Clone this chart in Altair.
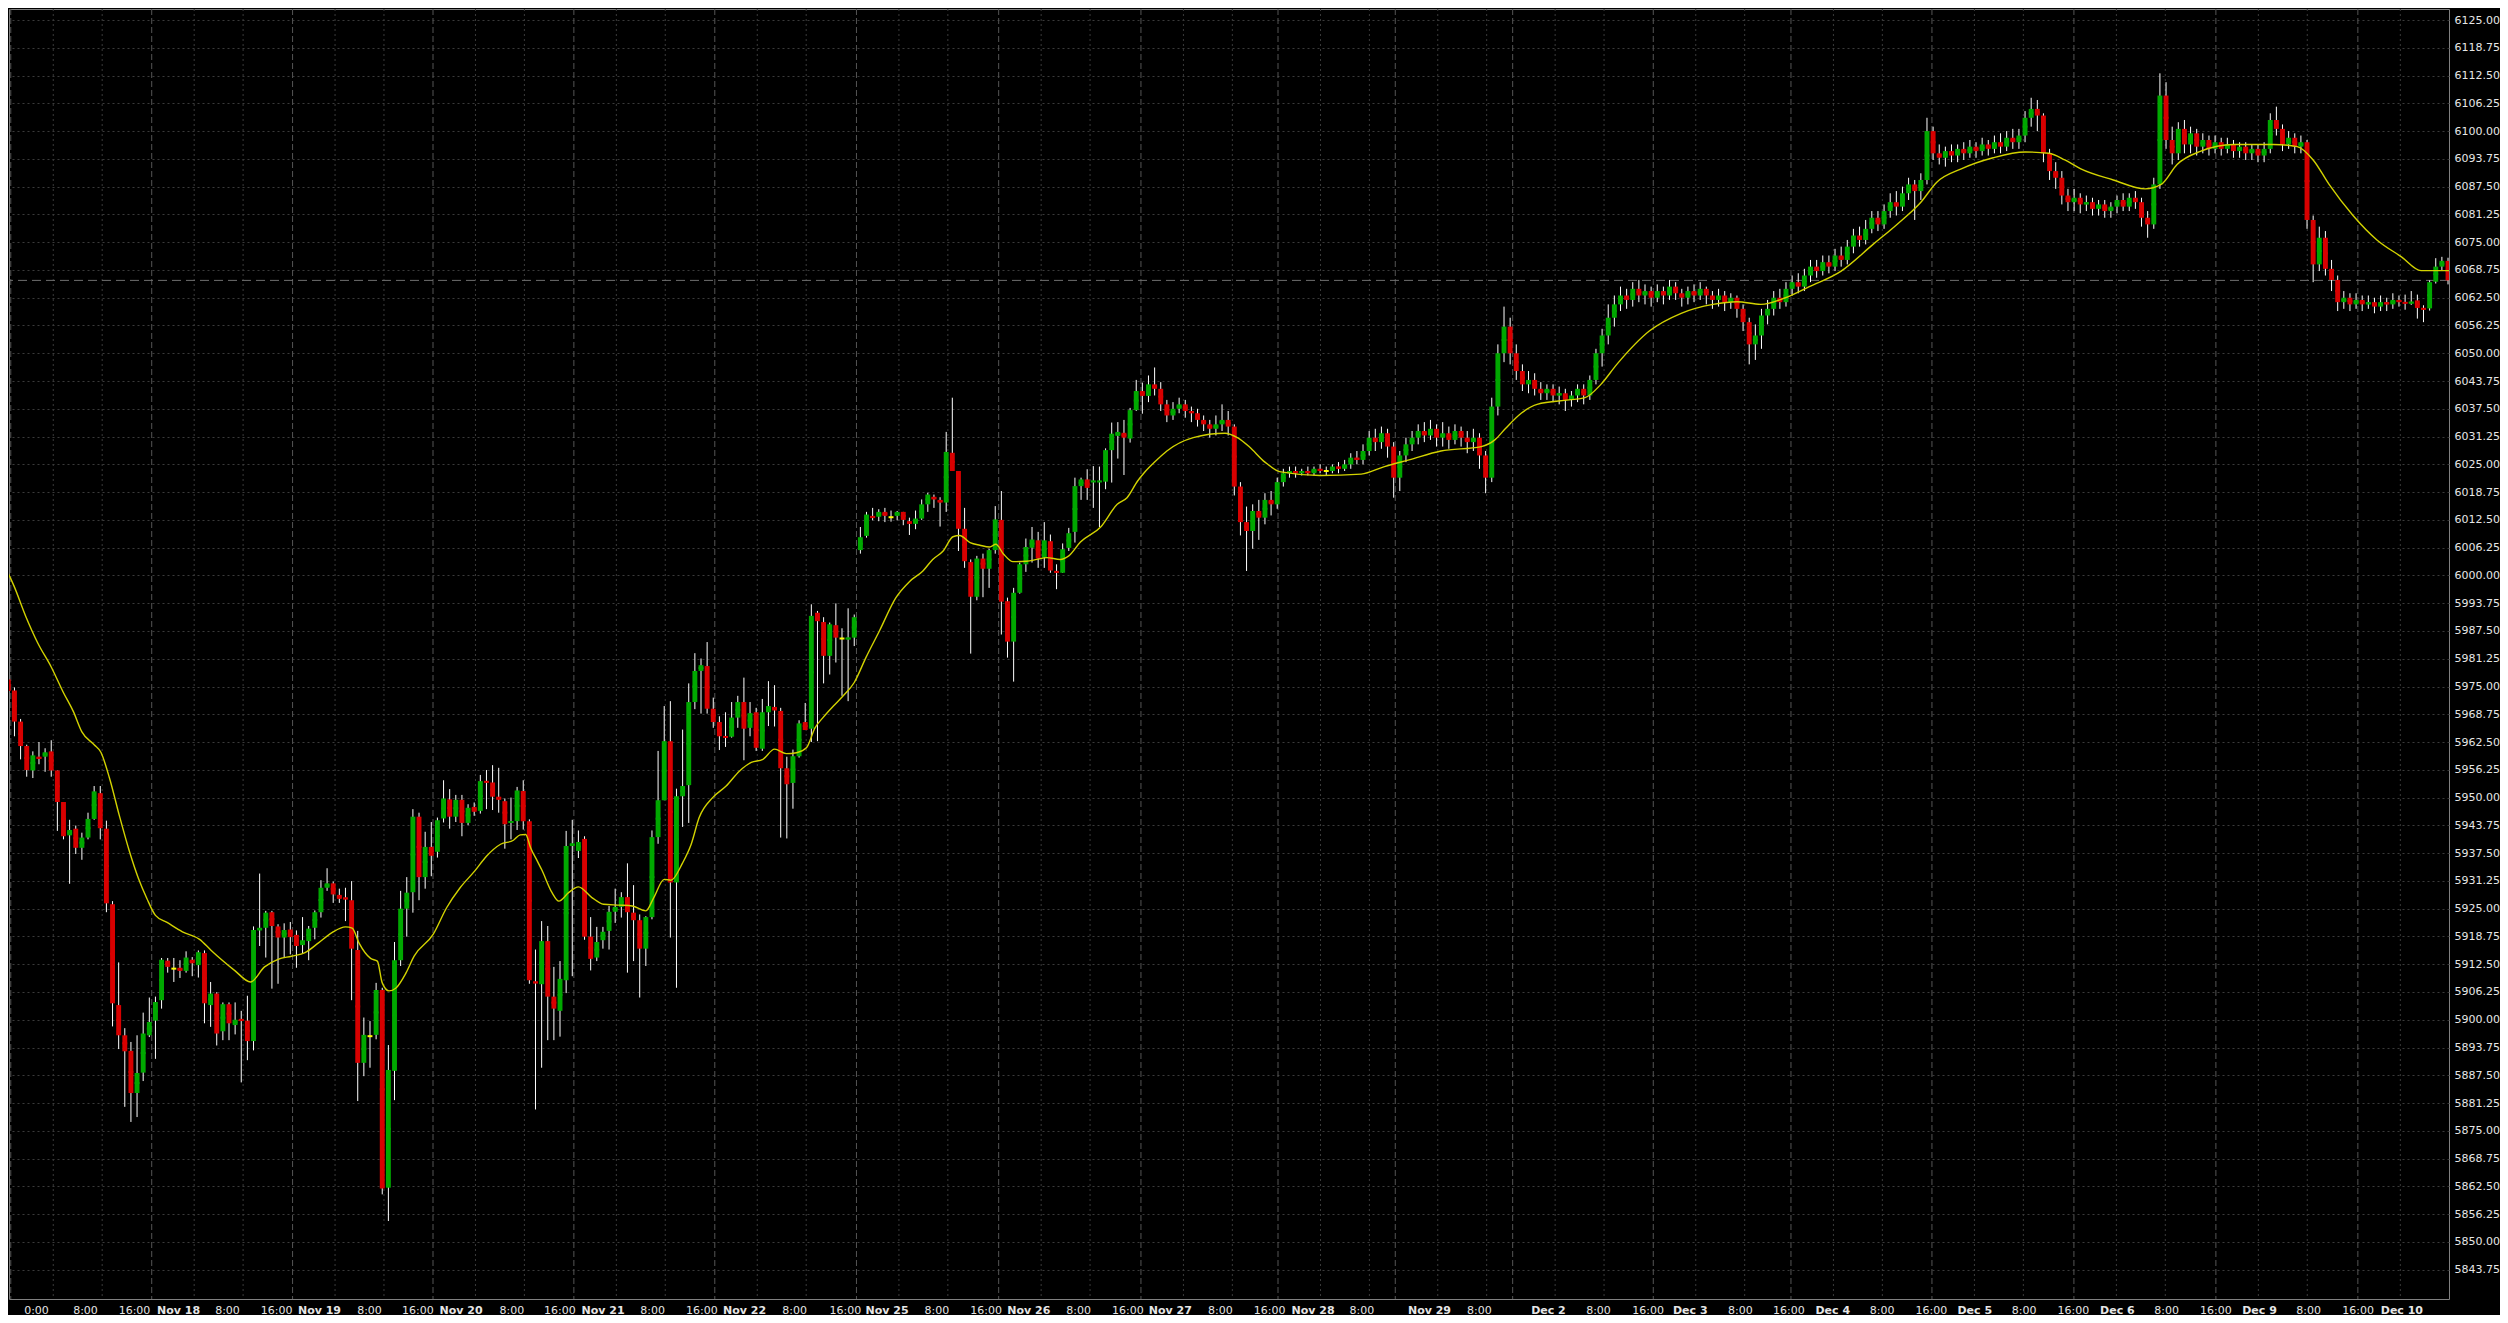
import altair as alt
import pandas as pd

# ---- hourly candles, bar index = position in list ----
opens = [5994.8,5976.6,5974.1,5967.1,5961.6,5956.1,5959.2,5959.2,5960.4,5956.1,
 5949.0,5941.5,5943.0,5938.7,5941.0,5945.2,5951.0,5943.0,5926.0,5903.3,
 5896.5,5893.0,5883.5,5888.1,5896.5,5899.8,5904.4,5913.3,5911.5,5911.7,
 5911.0,5913.5,5912.3,5915.0,5903.3,5905.9,5897.4,5903.5,5898.8,5900.2,
 5899.8,5895.2,5920.1,5920.7,5924.2,5921.0,5918.5,5920.3,5919.1,5916.8,
 5917.7,5920.7,5924.2,5929.7,5930.7,5928.1,5927.5,5926.9,5915.7,5890.3,
 5896.3,5896.6,5906.7,5862.2,5888.5,5913.4,5925.0,5928.7,5945.7,5932.1,
 5938.9,5937.8,5945.3,5949.6,5945.7,5949.5,5944.3,5947.9,5947.0,5953.7,
 5953.4,5950.2,5949.2,5944.3,5944.7,5951.5,5944.7,5908.6,5908.0,5917.7,
 5905.2,5902.0,5908.9,5939.1,5938.0,5940.7,5918.7,5914.0,5917.9,5920.0,
 5924.3,5925.4,5927.6,5924.1,5922.4,5916.0,5923.1,5941.1,5949.4,5962.7,
 5930.9,5950.3,5952.8,5971.5,5978.5,5979.6,5970.0,5967.0,5963.8,5963.7,
 5968.0,5971.5,5965.7,5969.2,5961.0,5969.2,5970.4,5969.5,5956.6,5953.3,
 5959.3,5967.0,5965.5,5991.6,5989.5,5981.9,5988.8,5985.8,5985.6,5986.0,
 6005.7,6008.9,6013.4,6013.2,6014.3,6013.1,6013.4,6014.3,6012.2,6011.6,
 6012.8,6016.0,6017.7,6017.0,6016.4,6027.6,6023.5,6010.5,6003.0,5995.2,
 6003.8,6001.5,6005.7,6012.5,5994.2,5985.1,5996.1,6002.5,6006.2,6007.9,
 6004.0,6007.7,6001.0,6000.6,6006.2,6009.8,6020.1,6021.6,6021.0,6021.0,
 6021.1,6028.2,6031.4,6032.1,6030.8,6037.2,6041.5,
 6040.4,6043.0,6042.0,6038.5,6036.0,6037.5,6038.5,6037.0,6036.5,6035.0,
 6034.0,6033.0,6034.0,6035.0,6033.5,6020.0,6012.0,6010.0,6014.5,6013.0,
 6017.0,6016.0,6021.0,6023.0,6023.5,6023.0,6023.5,6023.0,6024.0,6023.5,
 6023.5,6024.5,6024.0,6025.0,6026.5,6026.0,6028.0,6031.0,6030.0,6032.0,
 6029.0,6022.0,6027.0,6029.5,6031.0,6032.5,6031.5,6033.0,6031.0,6032.0,
 6030.5,6032.5,6031.0,6030.0,6031.0,6027.0,6022.0,6038.0,6050.0,6056.0,
 6050.0,6046.0,6043.0,6044.0,6042.0,6041.0,6042.0,6040.5,6041.0,6039.5,
 6040.5,6042.0,6040.5,6044.0,6050.0,6054.0,6058.0,6061.0,6063.0,6062.0,
 6064.5,6063.0,6064.0,6062.5,6064.0,6063.0,6065.0,6063.5,6062.5,6064.0,
 6063.0,6064.5,6063.0,6062.0,6063.0,6061.5,6062.5,6060.0,6057.0,6052.0,
 6054.0,6058.5,6060.0,6062.5,6061.5,6064.5,6066.0,6065.0,6067.5,6069.5,
 6068.5,6070.5,6069.5,6072.0,6071.0,6074.0,6076.5,6075.5,6078.0,6080.5,
 6079.0,6082.0,6084.0,6083.0,6086.0,6088.0,6086.5,6089.0,6100.0,6095.0,
 6094.0,6095.5,6094.5,6096.0,6095.0,6096.5,6095.5,6097.0,6096.0,6097.5,
 6096.5,6098.5,6097.5,6099.0,6103.0,6105.0,6103.5,6095.0,6091.0,6089.5,
 6085.5,6084.0,6085.0,6083.5,6084.0,6082.5,6083.5,6082.0,6083.0,6084.5,
 6083.0,6085.0,6084.0,6080.5,6079.0,6088.0,6108.0,6098.0,6095.0,6100.5,
 6097.0,6099.5,6096.5,6098.0,6096.0,6097.5,6096.0,6097.0,6095.5,6096.5,
 6095.0,6096.0,6094.5,6096.0,6102.5,6100.5,6097.0,6098.5,6096.5,6097.5,
 6080.0,6070.0,6076.0,6069.0,6066.5,6061.5,6062.5,6061.0,6062.0,6061.0,
 6061.5,6060.5,6061.5,6061.0,6062.0,6061.5,6061.2,6061.9,6060.2,6060.1,
 6066.1,6069.5,6070.8]
highs = [5995.2,5977.6,5974.8,5967.7,5961.9,5960.4,5962.5,5961.1,5962.9,5956.1,
 5949.0,5945.0,5943.7,5942.1,5946.6,5952.6,5952.6,5944.8,5926.7,5912.9,
 5898.1,5895.0,5896.5,5901.6,5905.0,5905.2,5913.9,5913.9,5913.9,5913.4,
 5915.4,5914.1,5915.6,5915.6,5908.5,5906.2,5903.9,5903.9,5903.9,5902.0,
 5905.4,5921.0,5932.9,5924.5,5924.5,5921.5,5921.7,5922.0,5920.1,5923.1,
 5921.1,5924.6,5931.4,5934.1,5931.1,5929.5,5929.7,5931.2,5920.0,5900.5,
 5899.7,5908.3,5907.2,5894.3,5917.5,5929.0,5932.1,5947.4,5946.6,5942.3,
 5944.5,5945.5,5953.9,5951.9,5950.6,5950.6,5948.5,5948.9,5955.1,5956.2,
 5957.3,5956.7,5949.8,5950.0,5952.4,5953.9,5945.1,5915.8,5922.2,5921.1,
 5911.9,5913.2,5942.5,5945.0,5942.6,5941.3,5923.1,5920.9,5920.9,5925.6,
 5929.5,5928.7,5935.2,5930.3,5923.7,5923.3,5942.6,5960.5,5970.6,5971.7,
 5952.0,5965.3,5975.7,5982.5,5981.3,5985.0,5972.5,5968.3,5969.2,5971.5,
 5972.9,5977.0,5971.5,5970.2,5972.2,5976.2,5975.3,5970.2,5959.2,5960.8,
 5967.4,5971.3,5993.5,5992.0,5990.6,5989.4,5993.7,5988.1,5992.6,5991.2,
 6010.9,6014.3,6015.2,6014.9,6015.2,6014.6,6014.5,6014.3,6013.0,6014.6,
 6017.1,6018.6,6018.2,6017.6,6032.3,6040.0,6023.5,6015.2,6003.6,6004.4,
 6004.9,6006.0,6015.6,6019.0,5995.0,5997.2,6002.9,6008.3,6010.9,6009.8,
 6012.0,6009.2,6002.5,6007.2,6010.7,6022.0,6022.0,6023.9,6024.6,6024.5,
 6028.6,6034.4,6034.5,6035.0,6037.7,6044.0,6043.4,
 6045.0,6046.8,6043.5,6039.5,6039.0,6040.0,6039.5,6038.0,6037.5,6036.0,
 6035.0,6036.0,6038.5,6037.0,6034.0,6021.0,6015.5,6016.0,6017.0,6018.5,
 6019.0,6022.0,6024.0,6024.5,6024.5,6024.0,6024.5,6024.5,6025.0,6024.5,
 6025.0,6025.5,6026.0,6027.5,6028.0,6029.5,6032.5,6033.0,6033.5,6033.0,
 6030.0,6028.0,6031.0,6032.5,6034.0,6034.5,6035.0,6034.0,6034.5,6033.5,
 6034.0,6033.5,6032.5,6033.0,6032.0,6028.0,6040.0,6052.0,6060.5,6058.0,
 6052.0,6047.5,6046.0,6045.5,6043.5,6043.0,6043.0,6042.5,6042.0,6041.5,
 6043.0,6043.0,6045.0,6051.0,6055.5,6061.0,6063.0,6065.0,6064.5,6066.0,
 6066.5,6065.5,6065.0,6065.5,6065.0,6066.5,6066.0,6064.5,6065.0,6065.5,
 6066.0,6065.0,6064.0,6064.5,6064.0,6063.5,6063.0,6061.0,6058.0,6056.5,
 6060.0,6062.0,6064.0,6064.5,6066.0,6067.5,6068.0,6069.0,6071.0,6071.0,
 6072.0,6072.0,6073.5,6074.0,6075.5,6078.0,6078.5,6080.0,6082.0,6082.0,
 6083.5,6086.0,6086.5,6087.5,6089.5,6089.0,6090.5,6103.0,6101.0,6097.0,
 6096.5,6097.0,6097.0,6097.5,6098.0,6097.5,6098.5,6098.0,6099.0,6099.5,
 6100.0,6100.5,6100.5,6104.5,6107.5,6107.0,6104.0,6096.0,6093.0,6091.0,
 6087.0,6087.0,6086.0,6085.5,6085.0,6084.5,6084.5,6084.0,6085.5,6086.0,
 6086.0,6086.5,6085.0,6082.0,6089.5,6113.0,6111.0,6101.0,6102.0,6102.5,
 6101.0,6100.5,6099.5,6099.0,6099.0,6098.5,6098.5,6098.0,6097.5,6097.5,
 6097.0,6097.0,6097.5,6104.0,6105.5,6101.5,6100.0,6099.5,6099.0,6098.0,
 6081.0,6078.5,6077.5,6071.0,6067.5,6064.0,6063.5,6063.5,6063.0,6063.0,
 6062.5,6063.0,6062.5,6063.5,6063.0,6063.2,6064.0,6063.2,6060.8,6066.4,
 6071.4,6071.7,6071.5]
lows = [5968.4,5963.8,5963.8,5958.6,5954.7,5954.4,5957.5,5955.8,5954.7,5942.5,
 5940.6,5930.6,5937.3,5936.0,5940.6,5945.0,5940.6,5924.2,5898.5,5893.4,
 5880.4,5877.0,5878.1,5886.2,5896.1,5891.2,5902.5,5910.6,5908.5,5909.4,
 5910.6,5909.8,5909.5,5899.2,5898.4,5894.2,5895.4,5895.4,5896.7,5885.9,
 5890.9,5893.1,5916.6,5914.0,5907.0,5908.1,5914.0,5914.7,5911.7,5914.9,
 5913.4,5918.1,5923.0,5929.0,5926.3,5926.3,5922.2,5904.4,5881.7,5887.3,
 5889.2,5895.6,5860.7,5854.7,5881.9,5912.1,5918.7,5924.1,5926.9,5929.5,
 5932.3,5936.5,5944.4,5943.0,5944.5,5941.3,5943.8,5945.9,5946.4,5947.4,
 5947.2,5946.6,5938.5,5940.6,5942.7,5942.8,5908.1,5879.8,5889.2,5895.4,
 5895.4,5896.2,5906.0,5909.8,5936.4,5918.0,5911.1,5913.2,5916.0,5915.8,
 5921.8,5923.0,5910.6,5913.2,5905.0,5912.1,5922.6,5939.6,5949.4,5918.5,
 5907.2,5943.4,5944.3,5969.9,5968.9,5968.9,5965.7,5960.7,5961.4,5963.5,
 5965.7,5958.4,5963.8,5960.5,5960.5,5966.1,5966.0,5941.0,5940.8,5947.5,
 5959.0,5965.2,5962.5,5962.7,5975.7,5977.7,5980.4,5972.9,5971.7,5984.1,
 6004.9,6008.5,6012.4,6012.2,6012.0,6012.1,6012.4,6011.3,6009.1,6010.4,
 6012.5,6014.3,6015.2,6011.0,6014.3,6023.5,6005.5,6001.7,5982.4,5994.4,
 5995.1,5997.2,6004.9,5986.7,5981.5,5976.1,5995.9,6000.8,6002.9,6001.7,
 6001.7,6000.6,5996.9,6000.6,6005.5,6007.4,6017.0,6017.0,6015.2,6010.9,
 6019.4,6020.9,6026.3,6022.6,6029.9,6037.0,6036.4,
 6039.0,6040.5,6037.0,6034.5,6035.0,6036.5,6035.5,6034.5,6033.5,6032.5,
 6031.0,6031.5,6032.5,6031.5,6018.0,6009.0,6001.0,6006.0,6008.0,6011.5,
 6013.5,6015.0,6020.0,6022.0,6022.0,6022.5,6022.5,6022.5,6023.0,6022.5,
 6023.0,6023.0,6023.5,6024.0,6025.0,6025.0,6027.0,6028.0,6028.5,6026.5,
 6017.5,6019.0,6025.5,6028.0,6029.5,6030.0,6030.5,6029.0,6029.0,6028.5,
 6029.5,6029.0,6027.5,6028.0,6024.0,6018.5,6021.0,6036.0,6048.0,6047.5,
 6044.0,6041.5,6041.0,6040.5,6039.5,6039.5,6039.0,6038.5,6037.0,6038.0,
 6039.0,6038.5,6039.5,6043.0,6047.0,6052.0,6056.0,6059.5,6060.0,6060.5,
 6061.5,6061.0,6060.5,6061.5,6061.0,6062.0,6062.0,6060.5,6061.0,6061.5,
 6062.0,6061.0,6060.0,6060.5,6059.5,6060.0,6058.0,6055.0,6047.5,6048.5,
 6051.0,6056.5,6058.5,6060.0,6060.5,6063.0,6063.5,6064.0,6066.0,6067.0,
 6067.5,6068.0,6068.5,6069.5,6070.0,6072.5,6074.0,6074.5,6077.0,6077.5,
 6078.0,6080.5,6081.0,6082.0,6084.5,6080.0,6084.5,6088.0,6093.5,6092.5,
 6092.0,6093.0,6093.0,6093.5,6094.0,6094.0,6094.5,6094.5,6095.0,6095.0,
 6095.5,6096.0,6096.0,6097.5,6101.0,6100.0,6093.0,6089.0,6087.0,6083.5,
 6082.0,6082.0,6081.5,6082.0,6081.0,6081.0,6080.5,6080.5,6081.5,6082.0,
 6082.0,6082.5,6078.5,6076.0,6078.0,6087.0,6096.0,6092.5,6093.5,6095.0,
 6095.0,6094.5,6095.0,6094.5,6095.0,6094.5,6095.0,6094.0,6094.0,6093.5,
 6093.5,6093.0,6093.0,6095.0,6099.0,6095.5,6096.0,6095.0,6095.0,6078.0,
 6066.0,6068.5,6067.5,6064.0,6059.5,6060.0,6059.5,6060.0,6059.5,6060.0,
 6059.0,6059.5,6059.5,6060.0,6060.5,6059.8,6060.9,6057.8,6057.0,6059.6,
 6065.7,6068.7,6065.5]
closes = [5976.9,5974.0,5967.1,5961.6,5956.2,5959.5,5958.7,5960.2,5956.1,5949.0,
 5941.3,5942.7,5938.7,5941.0,5945.2,5951.4,5943.1,5926.2,5903.7,5896.5,
 5892.9,5883.5,5888.0,5896.9,5899.5,5904.0,5913.5,5911.9,5911.5,5911.0,
 5914.0,5912.7,5915.2,5903.7,5905.9,5896.9,5903.5,5899.2,5900.0,5899.7,
 5895.2,5920.2,5920.7,5924.1,5921.1,5918.5,5920.2,5918.6,5916.6,5917.9,
 5920.5,5924.2,5929.7,5930.7,5928.2,5927.2,5927.1,5916.0,5890.3,5896.6,
 5896.3,5906.7,5862.0,5888.7,5913.4,5925.0,5928.6,5945.7,5932.1,5938.9,
 5936.9,5944.9,5949.8,5945.7,5949.5,5944.3,5947.7,5946.8,5953.7,5953.4,
 5950.2,5949.5,5944.0,5944.7,5951.6,5944.7,5908.9,5908.2,5917.7,5905.2,
 5902.5,5909.2,5939.1,5939.7,5940.0,5918.7,5913.7,5917.5,5919.8,5924.3,
 5925.4,5927.6,5924.2,5922.4,5916.0,5923.1,5941.1,5949.4,5962.7,5930.9,
 5950.3,5952.6,5971.5,5978.5,5979.8,5970.0,5967.0,5963.8,5963.5,5968.0,
 5971.5,5965.5,5969.0,5961.2,5969.2,5970.6,5969.6,5956.6,5953.0,5959.3,
 5966.7,5965.2,5990.9,5989.7,5981.9,5989.0,5986.0,5985.8,5986.0,5990.6,
 6008.6,6013.7,6012.9,6014.3,6013.4,6013.1,6014.3,6012.5,6011.6,6012.8,
 6016.0,6018.2,6017.1,6016.4,6027.8,6023.5,6010.5,6003.2,5995.2,6003.8,
 6001.5,6005.7,6012.6,5994.1,5985.1,5996.1,6002.5,6006.4,6008.1,6003.8,
 6007.9,6001.1,6000.6,6005.9,6009.5,6020.1,6021.6,6019.7,6021.3,6021.3,
 6028.2,6031.9,6032.3,6031.0,6037.2,6041.5,6040.4,
 6043.0,6042.0,6038.5,6036.0,6037.5,6038.5,6037.0,6036.5,6035.0,6034.0,
 6033.0,6034.0,6035.0,6033.5,6020.0,6012.0,6010.0,6014.5,6013.0,6017.0,
 6016.0,6021.0,6023.0,6023.5,6023.0,6023.5,6023.0,6024.0,6023.5,6023.5,
 6024.5,6024.0,6025.0,6026.5,6026.0,6028.0,6031.0,6030.0,6032.0,6029.0,
 6022.0,6027.0,6029.5,6031.0,6032.5,6031.5,6033.0,6031.0,6032.0,6030.5,
 6032.5,6031.0,6030.0,6031.0,6027.0,6022.0,6038.0,6050.0,6056.0,6050.0,
 6046.0,6043.0,6044.0,6042.0,6041.0,6042.0,6040.5,6041.0,6039.5,6040.5,
 6042.0,6040.5,6044.0,6050.0,6054.0,6058.0,6061.0,6063.0,6062.0,6064.5,
 6063.0,6064.0,6062.5,6064.0,6063.0,6065.0,6063.5,6062.5,6064.0,6063.0,
 6064.5,6063.0,6062.0,6063.0,6061.5,6062.5,6060.0,6057.0,6052.0,6054.0,
 6058.5,6060.0,6062.5,6061.5,6064.5,6066.0,6065.0,6067.5,6069.5,6068.5,
 6070.5,6069.5,6072.0,6071.0,6074.0,6076.5,6075.5,6078.0,6080.5,6079.0,
 6082.0,6084.0,6083.0,6086.0,6088.0,6086.5,6089.0,6100.0,6095.0,6094.0,
 6095.5,6094.5,6096.0,6095.0,6096.5,6095.5,6097.0,6096.0,6097.5,6096.5,
 6098.5,6097.5,6099.0,6103.0,6105.0,6103.5,6095.0,6091.0,6089.5,6085.5,
 6084.0,6085.0,6083.5,6084.0,6082.5,6083.5,6082.0,6083.0,6084.5,6083.0,
 6085.0,6084.0,6080.5,6079.0,6088.0,6108.0,6098.0,6095.0,6100.5,6097.0,
 6099.5,6096.5,6098.0,6096.0,6097.5,6096.0,6097.0,6095.5,6096.5,6095.0,
 6096.0,6094.5,6096.0,6102.5,6100.5,6097.0,6098.5,6096.5,6097.5,6080.0,
 6070.0,6076.0,6069.0,6066.5,6061.5,6062.5,6061.0,6062.0,6061.0,6061.5,
 6060.5,6061.5,6061.0,6062.0,6061.5,6061.2,6061.6,6060.2,6059.8,6066.0,
 6069.5,6070.8,6066.4]

# ---- moving average line (bar-index, value) ----
ma_idx = [-0.19,1.9,3.9,5.8,8.0,10.0,11.6,13.0,15.0,16.1,17.5,19.1,20.8,22.2,23.6,25.0,
 26.9,29.4,32.2,34.1,35.8,38.0,40.5,42.8,45.0,47.2,49.4,51.6,53.8,56.0,57.1,58.2,
 60.1,61.2,62.0,63.1,64.2,65.9,67.2,70.3,72.5,74.7,77.1,79.0,81.3,83.4,84.5,85.4,
 86.2,87.3,88.0,89.7,90.8,92.4,94.0,96.2,98.1,100.6,102.8,105.0,106.3,108.0,109.1,
 111.0,112.4,113.7,115.9,118.1,120.3,122.2,124.1,126.0,127.9,129.6,131.2,132.6,
 133.9,135.6,137.2,139.0,140.9,143.1,145.8,148.0,150.2,151.8,153.5,155.1,156.2,
 157.9,159.5,161.1,162.1,163.3,164.9,167.1,168.8,170.4,172.6,174.0,175.9,179.2,
 181.9,183.5,185.2,186.3,188.0,190.0,194.3,199.5,201.5,203.4,206.0,208.6,215.0,
 221.7,225.5,229.5,234.7,241.3,243.5,245.2,247.8,250.4,255.6,258.2,260.8,263.4,
 268.7,273.9,279.1,283.0,286.9,290.9,294.8,300.0,305.2,309.1,313.0,315.6,319.6,
 324.8,330.0,333.9,336.5,339.1,344.4,349.6,352.2,354.8,358.7,364.0,370.5,374.4,
 377.0,379.6,383.5,387.4,391.4,394.6,399.16]
ma_val = [6003.6,5997.7,5990.6,5984.8,5979.4,5973.6,5969.4,5964.8,5961.9,5960.2,5954.4,
 5946.0,5937.7,5931.9,5927.3,5923.5,5921.9,5919.8,5918.1,5915.6,5913.5,5911.0,5908.5,
 5911.9,5913.6,5914.3,5915.1,5917.3,5919.6,5920.9,5920.6,5917.3,5913.8,5913.2,5908.3,
 5906.5,5907.1,5910.6,5914.3,5919.2,5925.2,5929.7,5933.5,5936.8,5939.5,5940.4,5941.6,
 5941.7,5938.7,5935.7,5933.8,5928.6,5926.7,5928.6,5929.9,5927.5,5926.0,5925.8,5925.6,
 5924.5,5927.5,5931.6,5931.4,5935.3,5939.5,5945.5,5950.0,5952.6,5956.0,5957.9,5958.6,
 5960.9,5959.9,5960.1,5961.2,5965.7,5968.0,5970.6,5972.9,5975.9,5981.5,5987.5,5995.0,
 5998.6,6001.0,6003.6,6005.5,6008.7,6009.0,6007.4,6006.8,6006.4,6007.0,6004.9,6003.1,
 6003.2,6003.6,6004.0,6003.6,6004.4,6007.5,6010.9,6016.0,6017.5,6021.2,6023.1,6025.5,
 6028.0,6031.0,6032.0,6031.0,6029.0,6025.5,6023.3,6022.5,6022.8,6024.5,6026.0,6028.0,
 6029.0,6030.5,6033.0,6036.5,6038.5,6039.5,6040.0,6043.0,6047.5,6055.0,6059.0,6061.0,
 6061.6,6061.0,6062.5,6065.0,6068.5,6074.5,6079.0,6084.0,6088.5,6091.5,6094.0,6095.3,
 6095.0,6093.5,6091.5,6089.0,6087.0,6088.0,6092.5,6095.5,6097.0,6097.0,6096.5,6093.5,
 6088.0,6081.0,6075.5,6071.7,6068.6,6068.6]

# ---- x-axis labels (positions in bar units) ----
tick_pos = [5.51,13.51,21.50,28.68,36.67,44.67,51.68,59.84,67.72,74.78,83.05,90.88,
 97.94,106.04,114.05,121.03,129.20,137.46,144.26,152.40,160.42,167.39,175.51,183.57,
 190.47,198.65,206.69,213.77,221.73,232.76,240.91,252.17,260.33,268.43,275.30,283.46,
 291.39,298.55,306.59,314.63,321.71,329.75,337.80,344.98,353.00,361.06,368.17,376.18,
 384.26,391.39]
tick_text = ["0:00","8:00","16:00","Nov 18","8:00","16:00","Nov 19","8:00","16:00",
 "Nov 20","8:00","16:00","Nov 21","8:00","16:00","Nov 22","8:00","16:00","Nov 25",
 "8:00","16:00","Nov 26","8:00","16:00","Nov 27","8:00","16:00","Nov 28","8:00",
 "Nov 29","8:00","Dec 2","8:00","16:00","Dec 3","8:00","16:00","Dec 4","8:00","16:00",
 "Dec 5","8:00","16:00","Dec 6","8:00","16:00","Dec 9","8:00","16:00","Dec 10"]
y_ticks = [5843.75,5850.0,5856.25,5862.5,5868.75,5875.0,5881.25,5887.5,5893.75,5900.0,
 5906.25,5912.5,5918.75,5925.0,5931.25,5937.5,5943.75,5950.0,5956.25,5962.5,5968.75,
 5975.0,5981.25,5987.5,5993.75,6000.0,6006.25,6012.5,6018.75,6025.0,6031.25,6037.5,
 6043.75,6050.0,6056.25,6062.5,6068.75,6075.0,6081.25,6087.5,6093.75,6100.0,6106.25,
 6112.5,6118.75,6125.0]
grid_major = [1.40,24.39,47.37,70.28,93.26,116.25,139.36,162.56,185.77,208.13,227.26,
 246.41,269.35,291.81,314.81,337.97,361.13,384.29]
grid_minor = [8.33,16.31,31.32,39.30,54.30,62.28,77.21,85.19,100.19,108.17,123.18,131.16,
 146.29,154.27,169.49,177.47,192.70,200.68,215.06,223.04,234.19,242.17,253.34,261.32,
 276.28,284.26,298.74,306.72,321.74,329.72,344.90,352.88,368.06,376.04,391.22]

last_close = closes[-1]

df = pd.DataFrame({"i": list(range(len(closes))), "open": opens, "high": highs,
                   "low": lows, "close": closes})
df["dir"] = ["up" if c > o else ("down" if c < o else "flat") for o, c in zip(opens, closes)]
df["xa"] = df["i"] - 0.4
df["xb"] = df["i"] + 0.4
df["mid"] = (df["open"] + df["close"]) / 2

ma_df = pd.DataFrame({"i": ma_idx, "ma": ma_val})
gmaj = pd.DataFrame({"g": grid_major})
gmin = pd.DataFrame({"g": grid_minor})
price = pd.DataFrame({"p": [last_close]})

# the page margin is 8px, so the view starts at the bar that sits 8px in
xs = alt.Scale(domain=[1.11, 399.16], nice=False, zero=False)
ys = alt.Scale(domain=[5837.15, 6127.48], nice=False, zero=False)

date_pos = [p for p, s in zip(tick_pos, tick_text) if not s[0].isdigit()]
label_expr = "{}[indexof({}, datum.value)]".format(
    "[" + ",".join("'" + s + "'" for s in tick_text) + "]",
    "[" + ",".join(str(v) for v in tick_pos) + "]")

xaxis = alt.Axis(values=tick_pos, labelExpr=label_expr, grid=False, title=None,
                 labelOverlap=False, labelFlush=False, labelPadding=5,
                 labelFontWeight={"condition": {"test": "indexof([" + ",".join(str(v) for v in date_pos) + "], datum.value) >= 0",
                                                "value": "bold"}, "value": "normal"})
yaxis = alt.Axis(orient="right", values=y_ticks, format=".2f", title=None, grid=True,
                 gridColor="#3a3a3a", gridDash=[2, 3], gridWidth=1, labelPadding=5)

color = alt.Color("dir:N", scale=alt.Scale(domain=["up", "down", "flat"],
                                           range=["#00a800", "#d80000", "#ffff00"]), legend=None)

base = alt.Chart(df)

vmaj = alt.Chart(gmaj).mark_rule(color="#555555", strokeWidth=1, strokeDash=[6, 3]).encode(
    x=alt.X("g:Q", scale=xs, axis=xaxis))
vmin = alt.Chart(gmin).mark_rule(color="#3a3a3a", strokeWidth=1, strokeDash=[2, 3]).encode(
    x=alt.X("g:Q", scale=xs, axis=xaxis))
pline = alt.Chart(price).mark_rule(color="#6e6e6e", strokeWidth=1, strokeDash=[9, 5]).encode(
    y=alt.Y("p:Q", scale=ys, axis=yaxis))

wick = base.mark_rule(color="#ffffff", strokeWidth=1, clip=True).encode(
    x=alt.X("i:Q", scale=xs, axis=xaxis),
    y=alt.Y("low:Q", scale=ys, axis=yaxis), y2="high:Q")
body = base.mark_bar(clip=True).encode(
    x=alt.X("xa:Q", scale=xs, axis=xaxis), x2="xb:Q",
    y=alt.Y("open:Q", scale=ys, axis=yaxis), y2="close:Q", color=color)
bodymin = base.mark_rule(strokeWidth=2, clip=True).encode(
    x=alt.X("xa:Q", scale=xs, axis=xaxis), x2="xb:Q",
    y=alt.Y("mid:Q", scale=ys, axis=yaxis), color=color)
ma = alt.Chart(ma_df).mark_line(color="#d2d200", strokeWidth=1.4, interpolate="monotone",
                                clip=True).encode(
    x=alt.X("i:Q", scale=xs, axis=xaxis), y=alt.Y("ma:Q", scale=ys, axis=yaxis))

chart = alt.layer(vmaj, vmin, pline, wick, body, bodymin, ma).properties(
    width=2440, height=1290, padding=0, background="#000000"
).configure_view(stroke="#808080", strokeWidth=1).configure_axis(
    labelColor="#e6e6e6", labelFont="DejaVu Sans", labelFontSize=11,
    domain=False, ticks=False)

chart.save("out.html", embed_options={"renderer": "svg", "actions": False})
